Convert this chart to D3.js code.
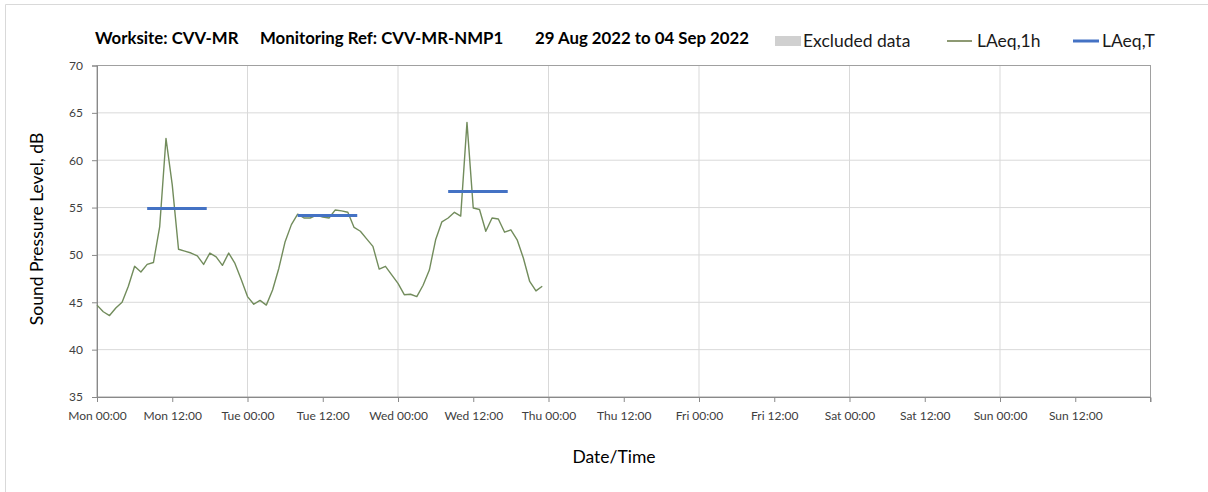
<!DOCTYPE html>
<html>
<head>
<meta charset="utf-8">
<script src="https://cdn.jsdelivr.net/npm/d3@7"></script>
<style>
  body { margin: 0; background: #fff; }
  svg { display: block; font-family: Lato, "Open Sans", sans-serif; }
</style>
</head>
<body>
<div id="chart"></div>
<script>
// hourly LAeq,1h values, starting Mon 29 Aug 2022 00:00
const startTime = Date.UTC(2022, 7, 29, 0, 0);
const laeq1h = [
  44.7, 44.0, 43.6, 44.4, 45.0, 46.7, 48.8, 48.2, 49.0, 49.2, 53.0, 62.3,
  57.4, 50.6, 50.4, 50.2, 49.9, 49.0, 50.2, 49.8, 48.9, 50.2, 49.1, 47.4,
  45.6, 44.8, 45.2, 44.7, 46.3, 48.6, 51.4, 53.2, 54.3, 53.9, 53.9, 54.2,
  54.0, 53.9, 54.75, 54.65, 54.5, 52.9, 52.5, 51.7, 50.9, 48.5, 48.8, 47.9,
  47.0, 45.8, 45.85, 45.6, 46.8, 48.4, 51.6, 53.5, 53.9, 54.5, 54.1, 64.0,
  54.95, 54.8, 52.5, 53.9, 53.8, 52.4, 52.65, 51.6, 49.65, 47.2, 46.2, 46.7
];

// LAeq,T daytime periods (hours from start) and levels
const periodStart = [8, 32, 56];
const periodEnd = [17.5, 41.5, 65.5];
const laeqT = [54.9, 54.15, 56.7];

const yTicks = [35, 40, 45, 50, 55, 60, 65, 70];
const titleParts = ['Worksite: CVV-MR', 'Monitoring Ref: CVV-MR-NMP1', '29 Aug 2022 to 04 Sep 2022'];
const legendLabels = ['Excluded data', 'LAeq,1h', 'LAeq,T'];

const width = 1208, height = 492;
const margin = { top: 65.5, right: 57.5, bottom: 95, left: 97 };
const innerWidth = width - margin.left - margin.right;
const innerHeight = height - margin.top - margin.bottom;

const svg = d3.select('#chart').append('svg')
  .attr('width', width)
  .attr('height', height);

// outer chart frame: only its top and left edges are in view
svg.append('path')
  .attr('d', `M5.5,${height}V4.5H${width}`)
  .attr('fill', 'none').attr('stroke', '#d9d9d9');

const hour = 3600 * 1000;
const endTime = new Date(startTime + 168 * hour);
const x = d3.scaleUtc()
  .domain([new Date(startTime), endTime])
  .range([0, innerWidth]);

const y = d3.scaleLinear()
  .domain([35, 70])
  .range([innerHeight, 0]);

const g = svg.append('g')
  .attr('transform', `translate(${margin.left},${margin.top})`);

// gridlines
g.append('g')
  .selectAll('line')
  .data(yTicks.slice(1, -1))
  .enter().append('line')
  .attr('x1', 0).attr('x2', innerWidth)
  .attr('y1', d => y(d)).attr('y2', d => y(d))
  .attr('stroke', '#d9d9d9');

const dayTicks = d3.range(1, 7).map(d => new Date(startTime + d * 24 * hour));
g.append('g')
  .selectAll('line')
  .data(dayTicks)
  .enter().append('line')
  .attr('x1', d => x(d)).attr('x2', d => x(d))
  .attr('y1', 0).attr('y2', innerHeight)
  .attr('stroke', '#d9d9d9');

// plot border
g.append('rect')
  .attr('width', innerWidth).attr('height', innerHeight)
  .attr('fill', 'none').attr('stroke', '#a0a0a0');

// x axis
const xTicks = d3.range(0, 14).map(d => new Date(startTime + d * 12 * hour));
const xAxis = g.append('g')
  .attr('transform', `translate(0,${innerHeight})`)
  .call(d3.axisBottom(x)
    .tickValues(xTicks)
    .tickFormat(d3.utcFormat('%a %H:%M'))
    .tickSize(5).tickPadding(9));
xAxis.select('.domain').attr('stroke', '#898989');
xAxis.selectAll('.tick line').attr('stroke', '#898989');
xAxis.selectAll('.tick text')
  .attr('fill', '#404040')
  .attr('font-size', '12px')
  .attr('font-family', 'Lato, sans-serif');
// closing tick at the right end of the axis
xAxis.append('line')
  .attr('x1', x(endTime)).attr('x2', x(endTime))
  .attr('y1', 0).attr('y2', 5)
  .attr('stroke', '#898989');

// y axis
const yAxis = g.append('g')
  .call(d3.axisLeft(y).tickValues(yTicks).tickSize(5).tickPadding(9));
yAxis.select('.domain').attr('stroke', '#898989');
yAxis.selectAll('.tick line').attr('stroke', '#898989');
yAxis.selectAll('.tick text')
  .attr('fill', '#404040')
  .attr('font-size', '12px')
  .attr('font-family', 'Lato, sans-serif');

// LAeq,1h line
const line = d3.line()
  .x((d, i) => x(new Date(startTime + i * hour)))
  .y(d => y(d));

g.append('path')
  .datum(laeq1h)
  .attr('d', line)
  .attr('fill', 'none')
  .attr('stroke', '#728c5c')
  .attr('stroke-width', 1.4)
  .attr('stroke-linejoin', 'round');

// LAeq,T bars
g.append('g')
  .selectAll('line')
  .data(laeqT)
  .enter().append('line')
  .attr('x1', (d, i) => x(new Date(startTime + periodStart[i] * hour)))
  .attr('x2', (d, i) => x(new Date(startTime + periodEnd[i] * hour)))
  .attr('y1', d => y(d)).attr('y2', d => y(d))
  .attr('stroke', '#4472c4')
  .attr('stroke-width', 3);

// axis titles
svg.append('text')
  .attr('x', 614)
  .attr('y', 463)
  .attr('text-anchor', 'middle')
  .attr('font-size', '17.5px')
  .attr('fill', '#000')
  .text('Date/Time');

svg.append('text')
  .attr('transform', 'translate(43,229) rotate(-90)')
  .attr('text-anchor', 'middle')
  .attr('font-size', '17.5px')
  .attr('fill', '#000')
  .text('Sound Pressure Level, dB');

// title
const titleX = [95, 260, 535];
svg.append('g')
  .selectAll('text')
  .data(titleParts)
  .enter().append('text')
  .attr('x', (d, i) => titleX[i])
  .attr('y', 44)
  .attr('font-size', '16.8px')
  .attr('font-weight', 'bold')
  .attr('fill', '#000')
  .text(d => d);

// legend
const legend = svg.append('g');
legend.append('rect')
  .attr('x', 775).attr('y', 36)
  .attr('width', 26).attr('height', 10)
  .attr('fill', '#d0d0d0');
legend.append('line')
  .attr('x1', 947).attr('x2', 972)
  .attr('y1', 41).attr('y2', 41)
  .attr('stroke', '#4f6228').attr('stroke-width', 1.3);
legend.append('line')
  .attr('x1', 1073).attr('x2', 1099)
  .attr('y1', 41).attr('y2', 41)
  .attr('stroke', '#4472c4').attr('stroke-width', 3);

const legendX = [803, 977, 1102];
legend.selectAll('text')
  .data(legendLabels)
  .enter().append('text')
  .attr('x', (d, i) => legendX[i])
  .attr('y', 47)
  .attr('font-size', '17.5px')
  .attr('fill', '#1a1a1a')
  .text(d => d);
</script>
</body>
</html>
